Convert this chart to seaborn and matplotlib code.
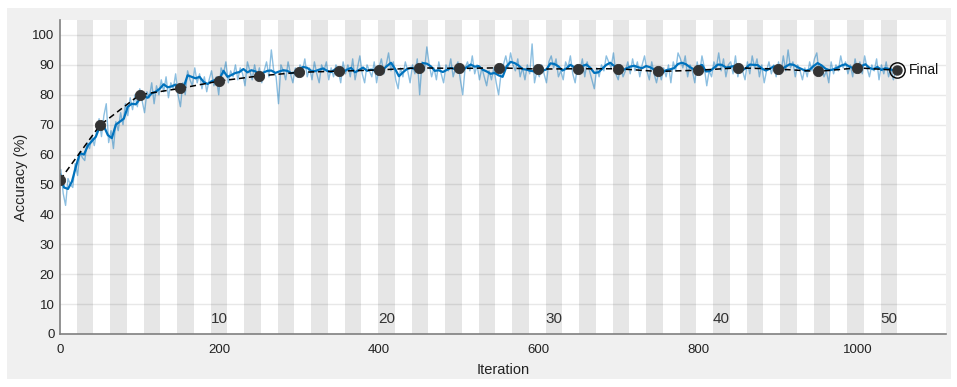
import numpy as np
import matplotlib
matplotlib.use("Agg")
import matplotlib.pyplot as plt
from matplotlib.patches import Rectangle
import seaborn as sns

# Training setup
iters_per_epoch = 21
n_epochs = 50
epoch_labels = [10, 20, 30, 40, 50]

# Validation accuracy (dots + dashed line)
val_iter = [0, 50, 100, 150, 200, 250, 300, 350, 400, 450, 500,
            550, 600, 650, 700, 750, 800, 850, 900, 950, 1000, 1050]
val_acc = [51.5, 69.8, 80.0, 82.1, 84.6, 86.3, 87.5, 87.9, 88.3, 89.0, 88.8,
           89.0, 88.6, 88.7, 88.7, 87.8, 88.2, 89.0, 88.6, 87.8, 89.0, 88.2]

# Raw mini-batch accuracy, read every 3 iterations starting at iteration 1
raw_step = 3
raw_acc = [
    55, 47, 43, 52, 50, 49, 57, 53, 61, 59,
    58, 64, 62, 66, 63, 68, 72, 66, 73, 77,
    64, 68, 62, 71, 68, 74, 70, 77, 73, 79,
    75, 80, 76, 82, 78, 74, 81, 79, 84, 77,
    83, 80, 85, 81, 86, 79, 84, 82, 87, 80,
    76, 84, 80, 88, 85, 83, 89, 84, 87, 82,
    86, 81, 85, 88, 83, 86, 80, 89, 87, 91,
    84, 88, 86, 90, 85, 89, 87, 83, 91, 88,
    85, 90, 86, 89, 84, 88, 91, 86, 95, 88,
    86, 77, 90, 88, 85, 91, 87, 84, 89, 86,
    90, 88, 92, 86, 89, 85, 91, 87, 84, 90,
    88, 91, 85, 89, 86, 90, 88, 84, 91, 87,
    90, 86, 92, 85, 89, 93, 87, 84, 90, 88,
    86, 91, 84, 89, 92, 87, 90, 94, 88, 91,
    85, 82, 89, 86, 91, 88, 84, 90, 87, 92,
    80, 91, 88, 96, 90, 86, 89, 85, 91, 87,
    84, 90, 88, 92, 86, 89, 91, 85, 80, 89,
    91, 88, 93, 87, 90, 85, 89, 86, 83, 88,
    85, 89, 84, 80, 87, 90, 93, 89, 94, 90,
    88, 92, 86, 89, 85, 90, 87, 97, 84, 88,
    86, 90, 87, 84, 91, 93, 89, 92, 86, 88,
    85, 91, 89, 93, 87, 84, 90, 88, 92, 86,
    91, 88, 85, 82, 89, 86, 90, 88, 93, 91,
    89, 94, 87, 85, 90, 86, 88, 91, 87, 92,
    88, 91, 86, 90, 93, 88, 85, 91, 87, 84,
    88, 85, 89, 86, 90, 84, 91, 88, 94, 92,
    89, 93, 86, 90, 88, 84, 91, 87, 93, 89,
    83, 88, 86, 91, 89, 94, 88, 92, 86, 90,
    91, 87, 93, 86, 90, 88, 85, 91, 87, 93,
    89, 92, 86, 90, 84, 88, 91, 87, 90, 86,
    91, 87, 93, 88, 95, 89, 91, 86, 90, 88,
    85, 89, 86, 91, 88, 92, 94, 87, 90, 86,
    88, 84, 91, 87, 90, 88, 93, 89, 91, 87,
    90, 86, 92, 88, 91, 87, 93, 89, 86, 90,
    88, 92, 85, 90, 87, 91, 86, 89, 85, 88,
]

# Smoothed training accuracy, read every 5 iterations starting at 0
smooth_step = 5
smooth_acc = [
    53.5, 49.0, 48.5, 51.0, 56.0, 60.5, 60.0, 63.0, 64.5, 66.0,
    69.5, 69.5, 66.5, 65.5, 70.0, 71.0, 72.0, 76.0, 77.0, 76.8,
    78.5, 79.5, 79.0, 80.5, 81.0, 82.0, 83.5, 82.5, 82.8, 83.4,
    81.0, 82.5, 86.5, 86.0, 85.5, 86.0, 84.3, 83.6, 84.5, 85.0,
    85.3, 88.0, 86.0, 86.6, 87.3, 87.6, 88.6, 87.5, 88.2, 87.8,
    86.9, 87.4, 88.0, 88.1, 87.3, 87.8, 88.2, 88.0, 87.2, 87.5,
    88.6, 89.3, 89.0, 88.0, 87.9, 88.4, 88.8, 88.0, 87.6, 88.5,
    88.2, 87.7, 88.4, 89.0, 87.5, 88.3, 89.1, 88.0, 88.4, 88.1,
    87.5, 88.5, 89.6, 90.7, 88.7, 86.2, 87.5, 88.6, 89.0, 88.6,
    89.3, 90.6, 90.4, 89.5, 88.0, 88.2, 87.6, 88.3, 89.0, 88.6,
    89.1, 88.3, 89.2, 90.1, 89.4, 89.6, 88.4, 87.8, 87.0, 87.3,
    86.5, 86.0, 89.5, 91.0, 90.6, 89.8, 88.6, 88.4, 88.0, 87.8,
    87.5, 88.0, 88.5, 90.5, 90.3, 89.5, 88.1, 88.8, 90.0, 89.2,
    88.5, 89.6, 90.1, 89.0, 87.3, 87.5, 88.7, 90.0, 90.7, 89.6,
    88.7, 88.1, 88.8, 89.4, 89.7, 89.2, 88.9, 89.6, 89.2, 88.4,
    87.6, 87.4, 88.2, 88.5, 88.9, 90.3, 90.7, 90.2, 89.2, 88.5,
    89.4, 90.0, 87.8, 87.9, 89.0, 90.1, 90.0, 89.1, 89.3, 89.6,
    89.0, 88.1, 88.9, 90.1, 90.0, 89.9, 88.8, 88.1, 88.7, 89.5,
    89.0, 88.6, 89.4, 90.2, 90.0, 89.2, 88.6, 88.0, 88.4, 89.6,
    90.6, 89.8, 88.7, 88.2, 88.5, 89.1, 89.8, 90.2, 89.4, 88.9,
    89.1, 89.6, 90.2, 89.0, 88.5, 89.3, 88.3, 88.9, 88.6, 88.2,
    88.6,
]

raw_iter = np.arange(len(raw_acc)) * raw_step + 1
smooth_iter = np.arange(len(smooth_acc)) * smooth_step

sns.set_theme(style="white")
plt.rcParams["font.family"] = ["Liberation Sans", "DejaVu Sans"]

blue = "#0072BD"
dot = "#333333"

fig = plt.figure(figsize=(9.57, 3.87), dpi=100, facecolor="white")
# grey panel behind the axes
fig.patches.append(Rectangle((0.0073, 0.0207), 0.9864, 0.9587, transform=fig.transFigure,
                             facecolor="#f0f0f0", edgecolor="none", zorder=-10))
ax = fig.add_axes([0.0627, 0.137, 0.9258, 0.8113])
ax.set_facecolor("white")

# shaded bands for every other epoch
for e in range(2, n_epochs + 1, 2):
    ax.axvspan((e - 1) * iters_per_epoch, e * iters_per_epoch, color="#e6e6e6", lw=0, zorder=0)

for y in range(0, 101, 10):
    ax.axhline(y, color="black", alpha=0.09, lw=1, zorder=1)

sns.lineplot(x=raw_iter, y=raw_acc, ax=ax, color=blue, alpha=0.45, lw=1, estimator=None, zorder=2)
sns.lineplot(x=smooth_iter, y=smooth_acc, ax=ax, color=blue, lw=1.6, estimator=None, zorder=3)
ax.plot(val_iter, val_acc, ls="--", dashes=(4, 2.5), color="black", lw=1.1, zorder=4)
sns.scatterplot(x=val_iter[:-1], y=val_acc[:-1], ax=ax, color=dot, s=55, edgecolor=dot, zorder=5)

# final validation point
ax.plot(val_iter[-1], val_acc[-1], "o", ms=6.5, color=dot, zorder=6)
ax.plot(val_iter[-1], val_acc[-1], "o", ms=11, mfc="none", mec="black", mew=1, zorder=6)
ax.text(val_iter[-1] + 14, val_acc[-1], "Final", fontsize=10, va="center", ha="left", color="#111111")

# epoch numbers
for e in epoch_labels:
    ax.text((e - 0.5) * iters_per_epoch, 5, str(e), fontsize=11, ha="center", va="center",
            color="#333333", zorder=6)

ax.set_xlim(0, 1111)
ax.set_ylim(0, 105)
ax.set_xticks([0, 200, 400, 600, 800, 1000])
ax.set_yticks(range(0, 101, 10))
ax.tick_params(direction="in", length=5.5, width=0.8, color="#777777", labelsize=9.5,
               labelcolor="#222222")
ax.tick_params(axis="x", pad=7)
ax.tick_params(axis="y", pad=4)
ax.set_xlabel("Iteration", fontsize=10.5, color="#222222", labelpad=5)
ax.set_ylabel("Accuracy (%)", fontsize=10.5, color="#222222", labelpad=3)

for side in ["top", "right"]:
    ax.spines[side].set_visible(False)
for side in ["left", "bottom"]:
    ax.spines[side].set_color("#808080")
    ax.spines[side].set_linewidth(1.2)
    ax.spines[side].set_zorder(7)

fig.savefig("out.png", dpi=100, facecolor="white")
